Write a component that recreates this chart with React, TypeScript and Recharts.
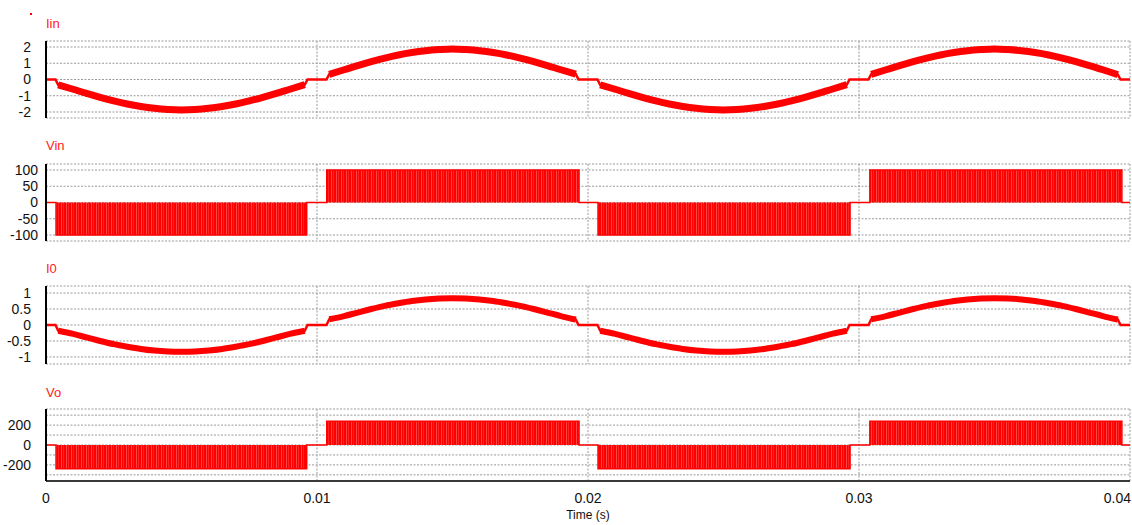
import React from 'react';
import { ComposedChart, Line, Area, XAxis, YAxis, CartesianGrid, Label } from 'recharts';

// sample times for the two current traces (dead zones around each zero crossing)
const tCur = [
  0, 0.00035,
  0.00045, 0.001, 0.0015, 0.002, 0.0025, 0.003, 0.0035, 0.004, 0.0045, 0.005, 0.0055, 0.006, 0.0065, 0.007, 0.0075, 0.008, 0.0085, 0.009, 0.00955,
  0.00965, 0.01035,
  0.01045, 0.011, 0.0115, 0.012, 0.0125, 0.013, 0.0135, 0.014, 0.0145, 0.015, 0.0155, 0.016, 0.0165, 0.017, 0.0175, 0.018, 0.0185, 0.019, 0.01955,
  0.01965, 0.02035,
  0.02045, 0.021, 0.0215, 0.022, 0.0225, 0.023, 0.0235, 0.024, 0.0245, 0.025, 0.0255, 0.026, 0.0265, 0.027, 0.0275, 0.028, 0.0285, 0.029, 0.02955,
  0.02965, 0.03035,
  0.03045, 0.031, 0.0315, 0.032, 0.0325, 0.033, 0.0335, 0.034, 0.0345, 0.035, 0.0355, 0.036, 0.0365, 0.037, 0.0375, 0.038, 0.0385, 0.039, 0.03955,
  0.03965, 0.04,
];

const iinVals = [
  0, 0,
  -0.33, -0.6, -0.86, -1.1, -1.32, -1.51, -1.66, -1.77, -1.84, -1.87, -1.84, -1.77, -1.66, -1.51, -1.32, -1.1, -0.86, -0.6, -0.32,
  0, 0,
  0.32, 0.6, 0.86, 1.1, 1.32, 1.51, 1.66, 1.77, 1.84, 1.88, 1.84, 1.77, 1.66, 1.51, 1.32, 1.1, 0.86, 0.6, 0.33,
  0, 0,
  -0.33, -0.6, -0.86, -1.1, -1.32, -1.51, -1.66, -1.77, -1.84, -1.87, -1.84, -1.77, -1.66, -1.51, -1.32, -1.1, -0.86, -0.6, -0.32,
  0, 0,
  0.32, 0.6, 0.86, 1.1, 1.32, 1.51, 1.66, 1.77, 1.84, 1.88, 1.84, 1.77, 1.66, 1.51, 1.32, 1.1, 0.86, 0.6, 0.3,
  0, 0,
];

const i0Vals = [
  0, 0,
  -0.18, -0.28, -0.39, -0.5, -0.6, -0.68, -0.75, -0.8, -0.83, -0.84, -0.83, -0.8, -0.75, -0.68, -0.6, -0.5, -0.39, -0.28, -0.18,
  0, 0,
  0.18, 0.28, 0.39, 0.5, 0.6, 0.68, 0.75, 0.8, 0.83, 0.84, 0.83, 0.8, 0.75, 0.68, 0.6, 0.5, 0.39, 0.28, 0.17,
  0, 0,
  -0.18, -0.28, -0.39, -0.5, -0.6, -0.68, -0.75, -0.8, -0.83, -0.84, -0.83, -0.8, -0.75, -0.68, -0.6, -0.5, -0.39, -0.28, -0.18,
  0, 0,
  0.18, 0.28, 0.39, 0.5, 0.6, 0.68, 0.75, 0.8, 0.83, 0.84, 0.83, 0.8, 0.75, 0.68, 0.6, 0.5, 0.39, 0.28, 0.17,
  0, 0,
];

// switching edges of the PWM voltage blocks
const tSw = [
  0, 0.00037, 0.00037, 0.00962, 0.00962,
  0.01036, 0.01036, 0.01967, 0.01967,
  0.02037, 0.02037, 0.02967, 0.02967,
  0.0304, 0.0304, 0.0397, 0.0397, 0.04,
];
const vinVals = [0, 0, -100, -100, 0, 0, 100, 100, 0, 0, -100, -100, 0, 0, 100, 100, 0, 0];
const voVals = [0, 0, -240, -240, 0, 0, 240, 240, 0, 0, -240, -240, 0, 0, 240, 240, 0, 0];

const xTicks = [0, 0.01, 0.02, 0.03, 0.04];
const iinTicks = [-2, -1, 0, 1, 2];
const vinTicks = [-100, -50, 0, 50, 100];
const i0Ticks = [-1, -0.5, 0, 0.5, 1];
const voGrid = [-300, -200, -100, 0, 100, 200, 300];
const voLabels = [-200, 0, 200];

const RED = '#ff0000';
const W = 1132;
const FONT = '"Liberation Sans", Arial, sans-serif';

const curData = tCur.map((t, i) => ({
  t,
  iin: iinVals[i],
  iinBand: iinVals[i] === 0 ? null : iinVals[i],
  i0: i0Vals[i],
  i0Band: i0Vals[i] === 0 ? null : i0Vals[i],
}));
const swData = tSw.map((t, i) => ({ t, vin: vinVals[i], vo: voVals[i] }));

const NoTick = () => <g />;

// time labels: the last one is pulled inside the frame, like the original
const TimeTick = (props: any) => {
  const { x, y, payload } = props;
  const last = payload.value === xTicks[xTicks.length - 1];
  return (
    <text x={last ? x + 1 : x} y={y} dy={10} textAnchor={last ? 'end' : 'middle'} fontSize={14} fill="#111" fontFamily={FONT}>
      {String(payload.value)}
    </text>
  );
};

const frame = (domain: [number, number], ticks: number[], tickMargin: number, withTime: boolean, fmt?: (v: number) => string) => [
  <CartesianGrid key="g" stroke="#9a9a9a" strokeDasharray="2 1.5" />,
  <XAxis
    key="xb"
    dataKey="t"
    type="number"
    domain={[0, 0.04]}
    ticks={xTicks}
    interval={0}
    tick={withTime ? TimeTick : NoTick}
    tickLine={false}
    tickMargin={6}
    height={withTime ? 46 : 0}
    axisLine={{ stroke: '#3a3a3a', strokeWidth: 2 }}
  >
    {withTime && <Label value="Time (s)" position="insideBottom" offset={8} style={{ fontSize: 12, fill: '#111', fontFamily: FONT }} />}
  </XAxis>,
  <XAxis
    key="xt"
    xAxisId="top"
    orientation="top"
    dataKey="t"
    type="number"
    domain={[0, 0.04]}
    tick={false}
    tickLine={false}
    height={0}
    axisLine={{ stroke: '#3a3a3a', strokeWidth: 2 }}
  />,
  <YAxis
    key="yl"
    type="number"
    domain={domain}
    ticks={ticks}
    width={40}
    tickLine={false}
    tickMargin={tickMargin}
    tickFormatter={fmt}
    tick={{ fontSize: 14, fill: '#111', fontFamily: FONT }}
    axisLine={{ stroke: '#000', strokeWidth: 2 }}
    interval={0}
  />,
  <YAxis
    key="yr"
    yAxisId="r"
    orientation="right"
    type="number"
    domain={domain}
    width={0}
    tick={false}
    tickLine={false}
    axisLine={{ stroke: '#8a8a8a', strokeWidth: 1.5 }}
  />,
];

const margin = { top: 2, right: 2, bottom: 2, left: 6 };

const Title = ({ text, top }: { text: string; top: number }) => (
  <div style={{ position: 'absolute', left: 46, top, fontSize: 13, lineHeight: '13px', color: '#ff2020', fontFamily: FONT }}>
    {text}
  </div>
);

const stripes = (id: string) => (
  <defs>
    <pattern id={id} width="5" height="10" patternUnits="userSpaceOnUse">
      <rect width="5" height="10" fill="#ff0000" />
      <rect x="1" width="1" height="10" fill="#ff4646" />
      <rect x="3" width="1" height="10" fill="#ff2424" />
    </pattern>
  </defs>
);

export default function App() {
  return (
    <div style={{ position: 'fixed', left: 0, top: 0, width: W, height: 525, background: '#fff', fontFamily: FONT }}>
      <div style={{ position: 'absolute', left: 30, top: 13, width: 2, height: 2, background: RED }} />

      <Title text="Iin" top={17} />
      <div style={{ position: 'absolute', left: 0, top: 39 }}>
        <ComposedChart width={W} height={81} data={curData} margin={margin}>
          {frame([-2.37, 2.37], iinTicks, 9, false)}
          <Line dataKey="iin" type="linear" stroke={RED} strokeWidth={2.5} dot={false} isAnimationActive={false} />
          <Line dataKey="iinBand" type="monotone" stroke={RED} strokeWidth={7} dot={false} isAnimationActive={false} />
        </ComposedChart>
      </div>

      <Title text="Vin" top={139} />
      <div style={{ position: 'absolute', left: 0, top: 162 }}>
        <ComposedChart width={W} height={81} data={swData} margin={margin}>
          {stripes('pwmVin')}
          {frame([-118.5, 118.5], vinTicks, 2, false)}
          <Area dataKey="vin" type="linear" baseValue={0} stroke={RED} strokeWidth={1.5} fill="url(#pwmVin)" fillOpacity={1} dot={false} isAnimationActive={false} />
        </ComposedChart>
      </div>

      <Title text="I0" top={262} />
      <div style={{ position: 'absolute', left: 0, top: 284 }}>
        <ComposedChart width={W} height={82} data={curData} margin={margin}>
          {frame([-1.22, 1.22], i0Ticks, 9, false)}
          <Line dataKey="i0" type="linear" stroke={RED} strokeWidth={2.5} dot={false} isAnimationActive={false} />
          <Line dataKey="i0Band" type="monotone" stroke={RED} strokeWidth={6} dot={false} isAnimationActive={false} />
        </ComposedChart>
      </div>

      <Title text="Vo" top={386} />
      <div style={{ position: 'absolute', left: 0, top: 407 }}>
        <ComposedChart width={W} height={120} data={swData} margin={{ ...margin, bottom: 0 }}>
          {stripes('pwmVo')}
          {frame([-362, 362], voGrid, 9, true, (v: number) => (voLabels.includes(v) ? String(v) : ''))}
          <Area dataKey="vo" type="linear" baseValue={0} stroke={RED} strokeWidth={1.5} fill="url(#pwmVo)" fillOpacity={1} dot={false} isAnimationActive={false} />
        </ComposedChart>
      </div>
    </div>
  );
}
